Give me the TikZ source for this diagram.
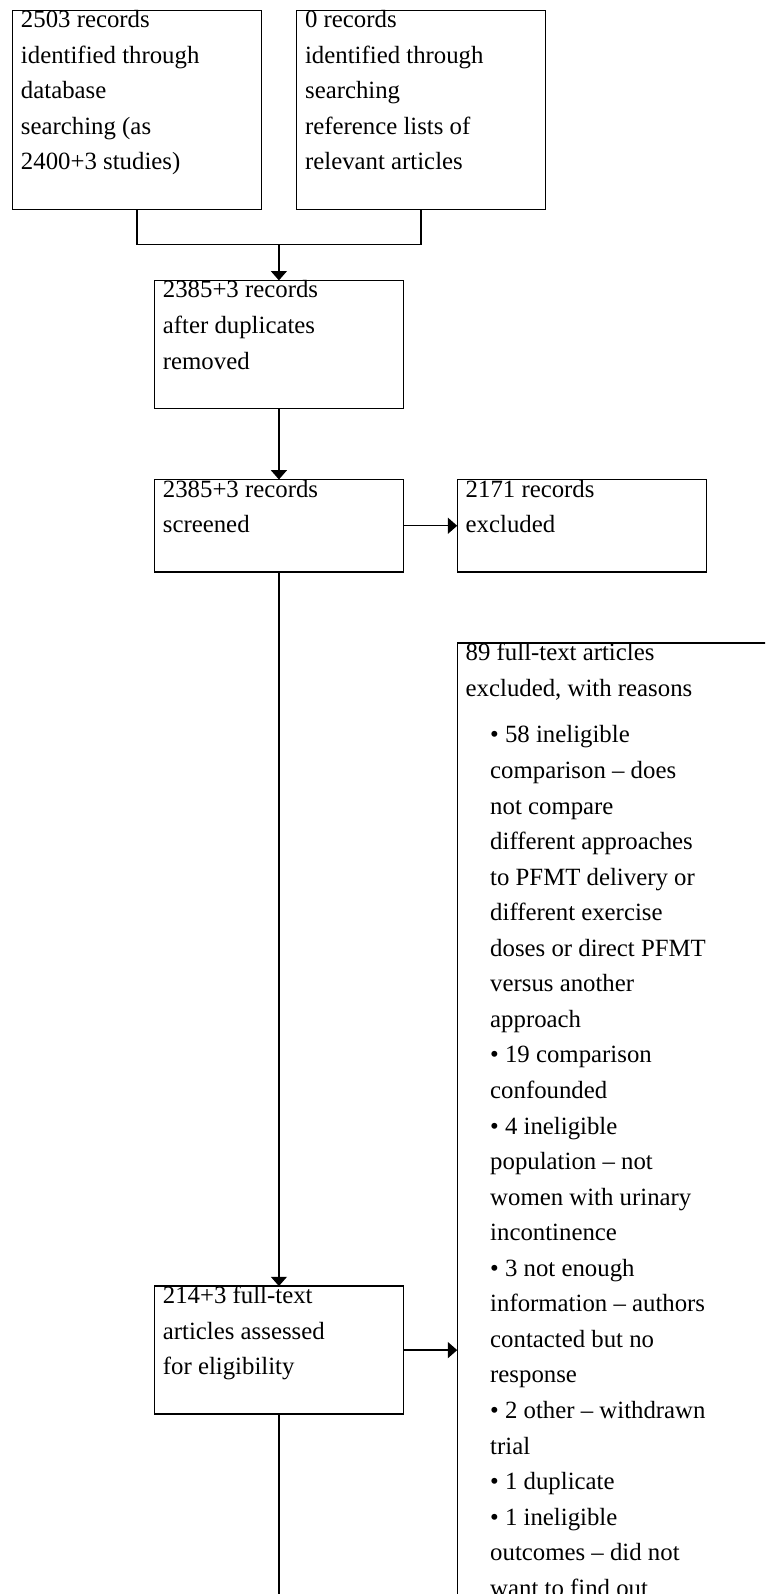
\documentclass[tikz,border=0pt]{standalone}
\usepackage{fontspec}
\setmainfont{Liberation Serif}
\usetikzlibrary{arrows.meta}
\begin{document}
\begin{tikzpicture}[x=0.75pt,y=-0.75pt,
  box/.style={draw, line width=1pt, anchor=north west, inner sep=0pt, outer sep=0pt},
  wide/.style={minimum width=186.75pt},
  txt/.style={anchor=base west, inner sep=0pt, outer sep=0pt, font=\fontsize{18.6}{26.67}\selectfont},
  conn/.style={line width=1pt},
  arr/.style={conn, -{Triangle[width=12pt,length=7pt]}}]
\useasboundingbox (0,0) rectangle (765,1594);
\clip (0,0) rectangle (765,1594);
% boxes
\node[box, wide, minimum height=149.3pt] (A) at (12.5,10.2) {};
\node[box, wide, minimum height=149.3pt] (B) at (296.6,10.2) {};
\node[box, wide, minimum height=96pt] (C) at (154.4,280.4) {};
\node[box, wide, minimum height=69.4pt] (D) at (154.4,479.5) {};
\node[box, wide, minimum height=69.4pt] (E) at (457.2,479.5) {};
\node[box, minimum width=279.6pt, minimum height=792.7pt] (F) at (457.2,643.1) {};
\node[box, wide, minimum height=96pt] (G) at (154.4,1286.1) {};
% texts
\node[txt] (At) at ([shift={(8.5,17.5)}]A.north west) {\begin{tabular}[t]{@{}l@{}}2503 records\\identified through\\database\\searching (as\\2400+3 studies)\end{tabular}};
\node[txt] (Bt) at ([shift={(8.5,17.5)}]B.north west) {\begin{tabular}[t]{@{}l@{}}0 records\\identified through\\searching\\reference lists of\\relevant articles\end{tabular}};
\node[txt] (Ct) at ([shift={(8.5,17.5)}]C.north west) {\begin{tabular}[t]{@{}l@{}}2385+3 records\\after duplicates\\removed\end{tabular}};
\node[txt] (Dt) at ([shift={(8.5,17.5)}]D.north west) {\begin{tabular}[t]{@{}l@{}}2385+3 records\\screened\end{tabular}};
\node[txt] (Et) at ([shift={(8.5,17.5)}]E.north west) {\begin{tabular}[t]{@{}l@{}}2171 records\\excluded\end{tabular}};
\node[txt] (Ft) at ([shift={(8.5,17.5)}]F.north west) {\begin{tabular}[t]{@{}l@{}}89 full-text articles\\excluded, with reasons\end{tabular}};
\node[txt] (Fl) at ([shift={(33,99.8)}]F.north west) {\begin{tabular}[t]{@{}l@{}}• 58 ineligible\\comparison – does\\not compare\\different approaches\\to PFMT delivery or\\different exercise\\doses or direct PFMT\\versus another\\approach\\• 19 comparison\\confounded\\• 4 ineligible\\population – not\\women with urinary\\incontinence\\• 3 not enough\\information – authors\\contacted but no\\response\\• 2 other – withdrawn\\trial\\• 1 duplicate\\• 1 ineligible\\outcomes – did not\\want to find out\end{tabular}};
\node[txt] (Gt) at ([shift={(8.5,17.5)}]G.north west) {\begin{tabular}[t]{@{}l@{}}214+3 full-text\\articles assessed\\for eligibility\end{tabular}};
% connectors
\coordinate (j) at (C.north |- 0,244.8);
\coordinate (bot) at (G.south |- 0,1620);
\draw[conn] (A.south) |- (j) -| (B.south);
\draw[arr] (j) -- (C.north);
\draw[arr] (C.south) -- (D.north);
\draw[arr] (D.east) -- (E.west);
\draw[arr] (D.south) -- (G.north);
\draw[arr] (G.east) -- (G.east -| F.west);
\draw[conn] (G.south) -- (bot);
\end{tikzpicture}
\end{document}
